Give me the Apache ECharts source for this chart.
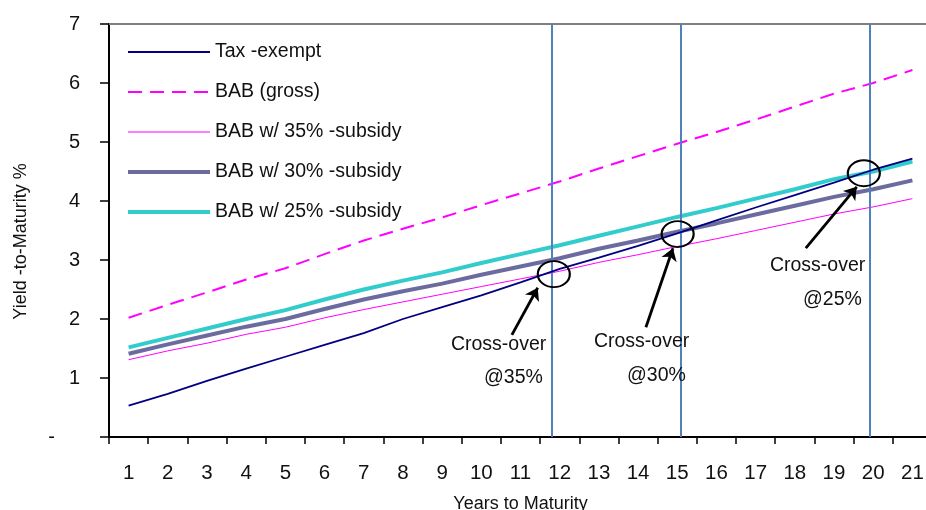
<!DOCTYPE html>
<html>
<head>
<meta charset="utf-8">
<script src="https://cdn.jsdelivr.net/npm/echarts@6/dist/echarts.min.js"></script>
<style>
  html, body { margin: 0; padding: 0; background: #fff; overflow: hidden; }
  #chart { width: 926px; height: 510px; }
</style>
</head>
<body>
<div id="chart"></div>
<script>
// Years to maturity (categories on the x axis)
const years = ['1','2','3','4','5','6','7','8','9','10','11','12','13','14','15','16','17','18','19','20','21'];

// Yield-to-maturity curves, in percent
const taxExempt = [0.53, 0.73, 0.95, 1.16, 1.36, 1.56, 1.76, 2.00, 2.20, 2.40, 2.62, 2.85, 3.04, 3.24, 3.45, 3.67, 3.89, 4.10, 4.31, 4.53, 4.72];
const babGross  = [2.02, 2.24, 2.45, 2.67, 2.86, 3.10, 3.33, 3.53, 3.72, 3.93, 4.13, 4.33, 4.55, 4.76, 4.97, 5.17, 5.38, 5.60, 5.82, 6.00, 6.22];
const bab35     = [1.31, 1.46, 1.59, 1.74, 1.86, 2.02, 2.16, 2.29, 2.42, 2.55, 2.68, 2.81, 2.96, 3.09, 3.23, 3.36, 3.50, 3.64, 3.78, 3.90, 4.04];
const bab30     = [1.41, 1.57, 1.72, 1.87, 2.00, 2.17, 2.33, 2.47, 2.60, 2.75, 2.89, 3.03, 3.19, 3.33, 3.48, 3.62, 3.77, 3.92, 4.07, 4.20, 4.35];
const bab25     = [1.52, 1.68, 1.84, 2.00, 2.15, 2.33, 2.50, 2.65, 2.79, 2.95, 3.10, 3.25, 3.41, 3.57, 3.73, 3.88, 4.04, 4.20, 4.37, 4.50, 4.67];

// Series names shown in the legend
const seriesNames = ['Tax -exempt', 'BAB (gross)', 'BAB w/ 35% -subsidy', 'BAB w/ 30% -subsidy', 'BAB w/ 25% -subsidy'];

// Cross-over maturities (years) where tax-exempt meets each subsidised BAB curve
const crossoverYears = [11.8, 15.1, 19.9];
const circleCentres = [[11.85, 2.76], [15.01, 3.44], [19.76, 4.47]];
const crossoverLabels = ['@35%', '@30%', '@25%'];

// Callout placement (year, yield) for each cross-over
const calloutTitleAt = [[10.44, 1.56], [14.09, 1.61], [18.58, 2.90]];
const calloutSubAt   = [[10.82, 1.00], [14.47, 1.04], [18.96, 2.33]];
const arrowFrom      = [[10.78, 1.73], [14.20, 1.86], [18.28, 3.20]];
const arrowTo        = [[11.44, 2.53], [14.89, 3.20], [19.58, 4.24]];

const FONT = "'Liberation Sans', Arial, sans-serif";
const TEXT = '#111111';

// Line styles per series: [colour, width, dash]
const styles = [
  ['#000080', 1.8, 'solid'],
  ['#FF00FF', 2, [14, 8]],
  ['#FF00FF', 1, 'solid'],
  ['#6B6B9F', 4, 'solid'],
  ['#33CCCC', 4, 'solid']
];
const zOrder = [5, 4, 3, 2, 4];

const chart = echarts.init(document.getElementById('chart'), null, { renderer: 'canvas' });

const seriesData = [taxExempt, babGross, bab35, bab30, bab25];
const lineSeries = seriesNames.map((name, i) => ({
  name, type: 'line', data: seriesData[i],
  xAxisIndex: 0, yAxisIndex: 0,
  symbol: 'none', smooth: false, z: zOrder[i],
  lineStyle: { color: styles[i][0], width: styles[i][1], type: styles[i][2], cap: 'butt' },
  itemStyle: { color: styles[i][0] },
  emphasis: { disabled: true },
  animation: false
}));

const calloutText = [];
calloutTitleAt.forEach((p) => calloutText.push({ value: p, name: 'Cross-over' }));
calloutSubAt.forEach((p, i) => calloutText.push({ value: p, name: crossoverLabels[i] }));

const option = {
  backgroundColor: '#ffffff',
  animation: false,
  textStyle: { fontFamily: FONT },
  grid: { left: 109, right: -6, top: 24, bottom: 73, containLabel: false, outerBoundsMode: 'none' },
  legend: {
    orient: 'vertical',
    left: 126, top: 42,
    padding: 0,
    itemWidth: 82, itemHeight: 14, itemGap: 20,
    itemStyle: { color: 'rgba(0,0,0,0)', borderWidth: 0, opacity: 0 },
    textStyle: { fontFamily: FONT, fontSize: 19.5, color: TEXT },
    data: seriesNames.map((name, i) => ({
      name,
      lineStyle: { color: styles[i][0], width: styles[i][1], type: styles[i][2], cap: 'butt' }
    })),
    selectedMode: false
  },
  xAxis: [
    {
      type: 'category', data: years, boundaryGap: true,
      name: 'Years to Maturity', nameLocation: 'middle', nameGap: 58,
      nameTextStyle: { fontFamily: FONT, fontSize: 18, color: TEXT },
      axisLine: { lineStyle: { color: '#000', width: 2 } },
      axisTick: { show: true, length: 7, alignWithLabel: false, lineStyle: { color: '#000', width: 1.5 } },
      axisLabel: { margin: 26, fontFamily: FONT, fontSize: 20.5, color: TEXT },
      splitLine: { show: false }
    },
    {
      // hidden continuous year scale used to place cross-over annotations
      type: 'value', min: 0.5, max: 21.5, show: false,
      gridIndex: 0
    }
  ],
  yAxis: {
    type: 'value', min: 0, max: 7, interval: 1,
    name: 'Yield -to-Maturity %', nameLocation: 'middle', nameGap: 79, nameRotate: 90,
    nameTextStyle: { fontFamily: FONT, fontSize: 18, color: TEXT, padding: [0, 22, 0, 0] },
    axisLine: { show: true, lineStyle: { color: '#000', width: 2 } },
    axisTick: { show: true, length: 9, inside: false, lineStyle: { color: '#000', width: 1.5 } },
    axisLabel: {
      margin: 29, fontFamily: FONT, fontSize: 20, color: TEXT,
      formatter: (v) => v === 0 ? '{d|-}' : String(v),
      rich: { d: { fontFamily: FONT, fontSize: 20, color: TEXT, padding: [0, 25, 0, 0] } }
    },
    splitLine: { show: false }
  },
  series: [
    ...lineSeries,
    {
      // top frame edge and cross-over guide lines
      name: 'guides', type: 'scatter', xAxisIndex: 1, yAxisIndex: 0,
      data: [], silent: true, z: 6,
      markLine: {
        silent: true, symbol: ['none', 'none'], animation: false,
        label: { show: false },
        data: [
          { yAxis: 7, lineStyle: { color: '#808080', width: 2, type: 'solid' } },
          ...crossoverYears.map((x) => ({ xAxis: x, lineStyle: { color: '#4F81BD', width: 2, type: 'solid' } }))
        ]
      }
    },
    {
      // circles around the cross-over points, with arrows pointing at them
      name: 'crossover', type: 'scatter', xAxisIndex: 1, yAxisIndex: 0,
      data: circleCentres,
      symbol: 'circle', symbolSize: [32, 26], silent: true, z: 8,
      itemStyle: { color: 'rgba(0,0,0,0)', borderColor: '#000', borderWidth: 2, opacity: 1 },
      markLine: {
        silent: true, animation: false,
        symbol: ['none', 'arrow'], symbolSize: 12,
        label: { show: false },
        itemStyle: { color: '#000', opacity: 1 },
        lineStyle: { color: '#000', width: 2.8, type: 'solid', opacity: 1 },
        data: arrowFrom.map((p, i) => [{ coord: p }, { coord: arrowTo[i] }])
      }
    },
    {
      name: 'callouts', type: 'scatter', xAxisIndex: 1, yAxisIndex: 0,
      data: calloutText, symbolSize: 0, silent: true, z: 9,
      itemStyle: { opacity: 1 },
      label: {
        show: true, position: 'inside', formatter: (p) => p.name,
        fontFamily: FONT, fontSize: 19.5, color: TEXT, opacity: 1,
        textBorderWidth: 0, textBorderColor: 'transparent'
      }
    }
  ]
};

chart.setOption(option);
</script>
</body>
</html>
